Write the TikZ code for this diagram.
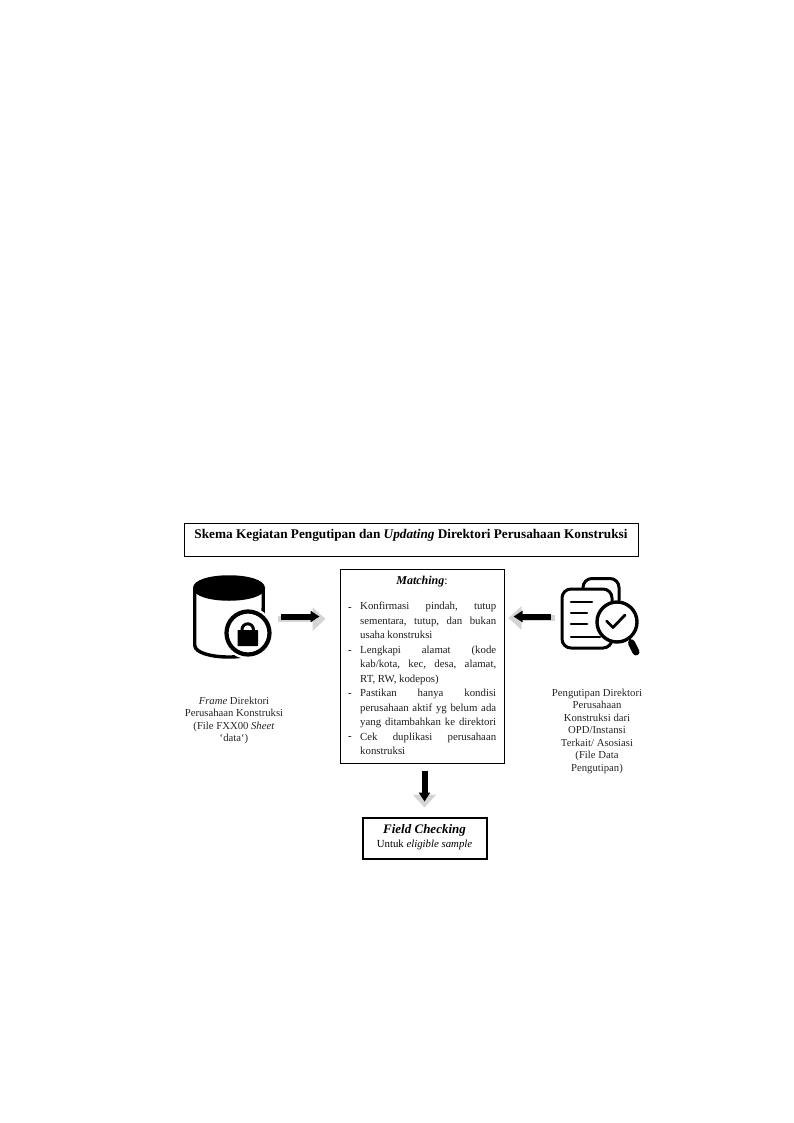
\documentclass[tikz,border=0pt]{standalone}
\usepackage{fontspec}
\setmainfont{Liberation Serif}
\usetikzlibrary{arrows.meta,positioning}
\newcommand{\jl}[1]{\hbox to 136pt{#1}}
\newcommand{\gp}{\hfill}
\tikzset{
  x=1pt,y=-1pt,
  framebox/.style={draw=black,line width=1pt,inner sep=0pt,fill=white},
  caption/.style={align=center,inner sep=0pt,font=\fontsize{10.7}{12.5}\selectfont,text=black!85},
  greyarrow/.style={draw=black!17,line width=6pt,-{Triangle[length=13pt,width=23pt]}},
  blackarrow/.style={draw=black,line width=6pt,-{Triangle[length=9pt,width=11pt]}},
  iconbox/.style={inner sep=0pt,minimum width=#1,minimum height=80pt},
  iconline/.style={line width=3pt,line cap=round,line join=round,draw=black},
}
\begin{document}
\begin{tikzpicture}
\useasboundingbox (0,0) rectangle (794,1123);
% title
\node[framebox,minimum width=454pt,minimum height=33pt] (title) at (411,539.5) {};
\node[inner sep=0pt,font=\fontsize{13.25}{16}\selectfont\bfseries,anchor=center] (titletext) at (411,535.5) {Skema Kegiatan Pengutipan dan \textit{Updating} Direktori Perusahaan Konstruksi};
% matching box
\node[framebox,minimum width=164pt,minimum height=194pt] (match) at (422,666) {};
\node[inner sep=0pt,font=\fontsize{12}{14}\selectfont] (mtitle) at (422,581.5) {\textbf{\textit{Matching}}:};
\node[inner sep=0pt,anchor=north west,align=left,font=\fontsize{10.8}{14.5}\selectfont,text=black!88] (mbody) at (360,602) {%
\jl{Konfirmasi\gp pindah,\gp tutup}\\
\jl{sementara,\gp tutup,\gp dan\gp bukan}\\
usaha konstruksi\\
\jl{Lengkapi\gp alamat\gp (kode}\\
\jl{kab/kota,\gp kec,\gp desa,\gp alamat,}\\
RT, RW, kodepos)\\
\jl{Pastikan\gp hanya\gp kondisi}\\
\jl{perusahaan\gp aktif\gp yg\gp belum\gp ada}\\
\jl{yang\gp ditambahkan\gp ke\gp direktori}\\
\jl{Cek\gp duplikasi\gp perusahaan}\\
konstruksi};
\node[inner sep=0pt,font=\fontsize{10.8}{13}\selectfont] (d1) at (350,609) {-};
\node[inner sep=0pt,font=\fontsize{10.8}{13}\selectfont] (d2) at (350,652) {-};
\node[inner sep=0pt,font=\fontsize{10.8}{13}\selectfont] (d3) at (350,695) {-};
\node[inner sep=0pt,font=\fontsize{10.8}{13}\selectfont] (d4) at (350,738) {-};
% field checking
\node[framebox,line width=2pt,minimum width=124pt,minimum height=41pt] (field) at (424.5,838) {};
\node[inner sep=0pt,font=\fontsize{13}{15}\selectfont\bfseries\itshape] (ftitle) at (424.5,830) {Field Checking};
\node[inner sep=0pt,font=\fontsize{10.8}{13}\selectfont] (fsub) at (424.5,845) {Untuk \textit{eligible sample}};
% database icon
\node[iconbox=72pt,minimum height=82pt] (db) at (229,616) {};
\fill[black] (193,588) .. controls (193,571) and (265,571) .. (265,588) .. controls (265,605) and (193,605) .. (193,588) -- cycle;
\draw[line width=3.4pt,line cap=round] (194.7,588) -- (194.7,645) .. controls (194.7,661) and (263,661) .. (263,645) -- (263.3,588);
\fill[white] (248,633) circle (26);
\draw[line width=4.2pt,black] (248,633) circle (21.5);
\fill[black,rounded corners=0.6pt] (237.5,630) rectangle (258,646);
\draw[line width=3pt] (242,631) -- (242,629.5) arc[start angle=180,end angle=360,radius=5.7] -- (253.4,631);
% document icon
\node[iconbox=78pt] (doc) at (600,618) {};
\draw[iconline,rounded corners=9pt] (583,586) -- (583,578.5) -- (619,578.5) -- (619,600);
\draw[iconline,fill=white,rounded corners=9pt] (562,589) rectangle (612,648);
\draw[iconline,line width=2.6pt] (571,602) -- (592,602);
\draw[iconline,line width=2.6pt] (571,613) -- (587,613);
\draw[iconline,line width=2.6pt] (571,624) -- (587,624);
\draw[iconline,line width=2.6pt] (571,637) -- (600,637);
\draw[line width=3.4pt,fill=white] (617,622) circle (20);
\draw[line width=2.8pt,line cap=round,line join=round] (606.5,621) -- (613,627.5) -- (625,615);
\draw[line width=2.4pt] (629,638) -- (632,643);
\draw[line width=7pt,line cap=round] (631.5,643) -- (636,652);
% captions
\node[caption] (leftcap) at (234,720.5) {\textit{Frame} Direktori\\Perusahaan Konstruksi\\(File FXX00 \textit{Sheet}\\`data`)};
\node[caption] (rightcap) at (597,731) {Pengutipan Direktori\\Perusahaan\\Konstruksi dari\\OPD/Instansi\\Terkait/ Asosiasi\\(File Data\\Pengutipan)};
% connectors
\coordinate (a1s) at (db.east |- 0,619);
\coordinate (a1e) at (match.west |- 0,619);
\draw[greyarrow,shorten <=13pt,shorten >=14pt] (a1s) -- (a1e);
\draw[blackarrow,shorten <=16pt,shorten >=20pt] (a1s |- 0,616.5) -- (a1e |- 0,616.5);
\coordinate (a2s) at (doc.west |- 0,618);
\coordinate (a2e) at (match.east |- 0,618);
\draw[greyarrow,shorten <=6pt,shorten >=4pt] (a2s) -- (a2e);
\draw[blackarrow,shorten <=10pt,shorten >=9pt] (a2s |- 0,616.5) -- (a2e |- 0,616.5);
\coordinate (a3s) at (match.south -| field.north);
\draw[greyarrow,shorten <=7pt,shorten >=9pt] (a3s) -- (field.north);
\draw[blackarrow,shorten <=7pt,shorten >=15pt] (a3s) -- (field.north);
\end{tikzpicture}
\end{document}
